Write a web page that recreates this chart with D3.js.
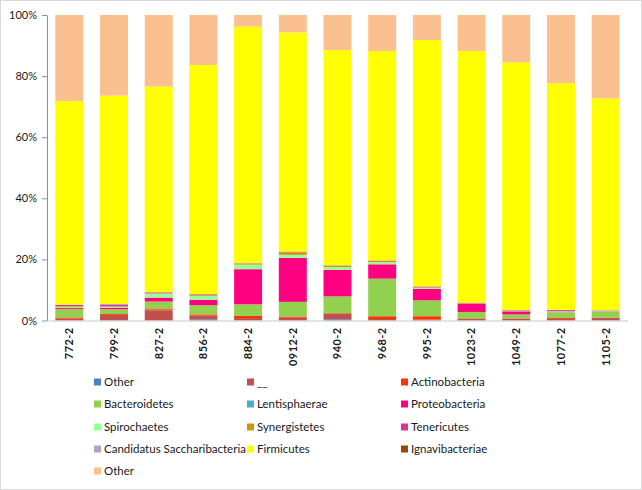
<!DOCTYPE html>
<html>
<head>
<meta charset="utf-8">
<script src="https://cdn.jsdelivr.net/npm/d3@7/dist/d3.min.js"></script>
<style>
  html, body { margin: 0; padding: 0; background: #fff; }
  svg { display: block; }
</style>
</head>
<body>
<svg id="chart" width="642" height="490"></svg>
<script>
const categories = ["772-2","799-2","827-2","856-2","884-2","0912-2","940-2","968-2","995-2","1023-2","1049-2","1077-2","1105-2"];

const seriesNames = ["Other","__","Actinobacteria","Bacteroidetes","Lentisphaerae","Proteobacteria","Spirochaetes","Synergistetes","Tenericutes","Candidatus Saccharibacteria","Firmicutes","Ignavibacteriae","Other"];
const seriesColors = ["#4F81BD","#C0504D","#FF3300","#92D050","#4BACC6","#FF0080","#99FF99","#CC9900","#DD3399","#B3A2C7","#FFFF00","#984807","#FAC090"];

const otherLow      = [0, 0, 0, 0.4, 0, 0, 0.4, 0, 0, 0, 0, 0, 0];
const unassigned    = [0.6, 1.8, 3.3, 1.2, 0.8, 0.9, 1.8, 0.5, 0.3, 0.6, 0.6, 0.5, 0.8];
const actinobacteria= [0.4, 0.3, 0.4, 0.4, 0.7, 0.4, 0.2, 0.9, 1.1, 0.1, 0.1, 0.3, 0.1];
const bacteroidetes = [2.8, 1.6, 2.5, 3.0, 3.8, 4.8, 5.5, 12.3, 5.2, 2.1, 1.3, 1.8, 2.0];
const lentisphaerae = [0, 0, 0, 0, 0, 0, 0, 0, 0, 0, 0, 0, 0];
const proteobacteria= [0.4, 0.5, 1.3, 1.8, 11.5, 14.4, 8.7, 4.7, 3.8, 2.8, 1.0, 0.1, 0.1];
const spirochaetes  = [0.3, 0.3, 1.3, 1.3, 1.5, 1.0, 0.9, 0.7, 0.3, 0.1, 0.1, 0.3, 0.2];
const synergistetes = [0.2, 0.1, 0.2, 0.3, 0.3, 0.8, 0.4, 0.4, 0.2, 0, 0, 0, 0];
const tenericutes   = [0.4, 0.5, 0.2, 0.2, 0.1, 0.2, 0.1, 0.1, 0.2, 0.1, 0.2, 0.4, 0.1];
const candidatus    = [0.1, 0.3, 0.2, 0.1, 0.1, 0.1, 0.1, 0.1, 0.1, 0, 0.1, 0.1, 0.1];
const firmicutes    = [66.6, 68.2, 67.2, 74.9, 77.4, 71.7, 70.4, 68.5, 80.6, 82.4, 81.1, 74.2, 69.3];
const ignavibacteriae=[0, 0, 0, 0, 0, 0, 0, 0, 0, 0, 0, 0, 0];
const otherHigh     = [28.2, 26.4, 23.4, 16.4, 3.8, 5.7, 11.5, 11.8, 8.2, 11.8, 15.5, 22.3, 27.3];

const yTicks = [0, 0.2, 0.4, 0.6, 0.8, 1.0];

const seriesValues = [otherLow, unassigned, actinobacteria, bacteroidetes, lentisphaerae, proteobacteria, spirochaetes, synergistetes, tenericutes, candidatus, firmicutes, ignavibacteriae, otherHigh];

const keys = seriesNames.map((n, i) => "s" + i);
const table = categories.map((c, j) => {
  const row = { cat: c };
  keys.forEach((k, i) => row[k] = seriesValues[i][j]);
  return row;
});

const svg = d3.select("#chart");
const W = 642, H = 490;
const plot = { left: 47, right: 628, top: 15, bottom: 320.5 };

svg.append("rect").attr("x", 0.5).attr("y", 0.5).attr("width", W - 1).attr("height", H - 1)
  .attr("fill", "#fff").attr("stroke", "#d9d9d9");

const x = d3.scaleBand().domain(categories).range([plot.left, plot.right])
  .paddingInner(0.374).paddingOuter(0.187);
const y = d3.scaleLinear().domain([0, 1]).range([plot.bottom, plot.top]);

const stack = d3.stack().keys(keys).offset(d3.stackOffsetExpand);
const layers = stack(table);

svg.append("g").selectAll("g").data(layers).join("g")
  .attr("fill", (d, i) => seriesColors[i])
  .selectAll("rect").data(d => d).join("rect")
  .attr("x", d => x(d.data.cat))
  .attr("width", x.bandwidth())
  .attr("y", d => y(d[1]))
  .attr("height", d => Math.max(0, y(d[0]) - y(d[1])));

// Y axis
const yAxis = d3.axisLeft(y).tickValues(yTicks).tickFormat(d3.format(".0%")).tickSize(5).tickSizeOuter(0);
const gy = svg.append("g").attr("transform", `translate(${plot.left},0)`).call(yAxis);
gy.select(".domain").attr("stroke", "#7f93b0");
gy.selectAll(".tick line").attr("stroke", "#7f93b0");
gy.selectAll(".tick text").attr("font-family", "Lato, 'Liberation Sans', sans-serif")
  .attr("font-size", "11px").attr("fill", "#1a1a1a").attr("x", -10);

// X axis
const xAxis = d3.axisBottom(x).tickSize(0).tickSizeOuter(0);
const gx = svg.append("g").attr("transform", `translate(0,${plot.bottom})`).call(xAxis);
gx.select(".domain").attr("stroke", "#c8c8c8");
gx.selectAll(".tick text")
  .attr("font-family", "Lato, 'Liberation Sans', sans-serif")
  .attr("font-size", "11px").attr("font-weight", "bold").attr("fill", "#1a1a1a")
  .attr("letter-spacing", "0.4px")
  .attr("text-anchor", "end")
  .attr("transform", "rotate(-90)")
  .attr("x", -7).attr("y", 0).attr("dy", "0.35em");

// Legend
const cols = [97, 250, 404];
const rows = [382, 404, 427, 449, 471];
const leg = svg.append("g");
seriesNames.forEach((name, i) => {
  const cx = cols[i % 3], cy = rows[Math.floor(i / 3)];
  leg.append("rect").attr("x", cx - 3).attr("y", cy - 3.5).attr("width", 7).attr("height", 7)
    .attr("fill", seriesColors[i]);
  leg.append("text").attr("x", cx + 7).attr("y", cy).attr("dy", "0.35em")
    .attr("font-family", "Lato, 'Liberation Sans', sans-serif").attr("font-size", "11.5px")
    .attr("fill", "#1a1a1a").text(name);
});
</script>
</body>
</html>
